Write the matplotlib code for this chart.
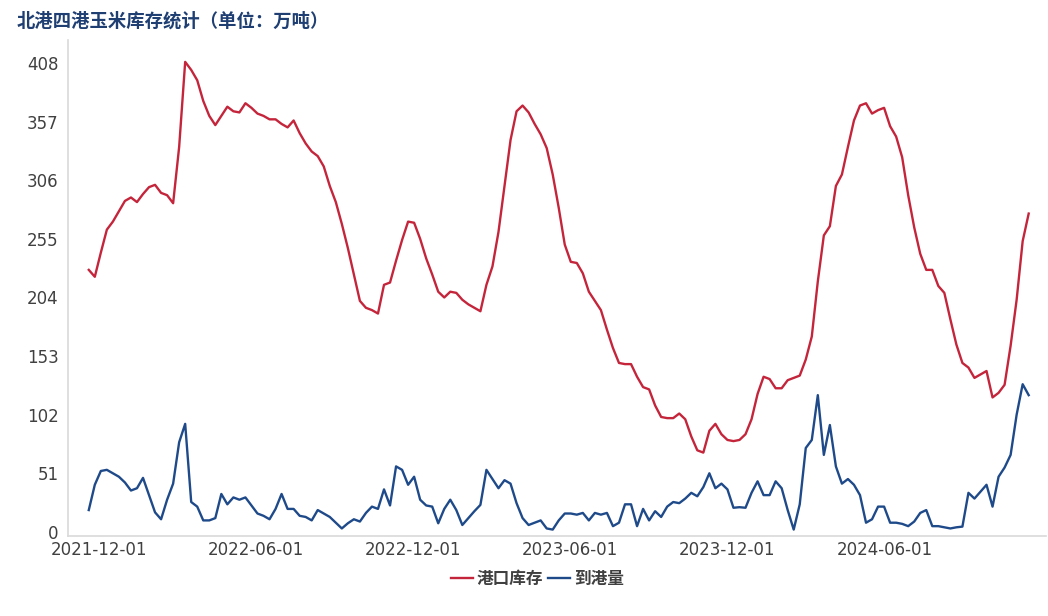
import numpy as np
import pandas as pd
import matplotlib
matplotlib.use('Agg')
import matplotlib.pyplot as plt
import matplotlib.dates as mdates

plt.rcParams['font.family'] = ['Noto Sans CJK SC', 'DejaVu Sans']

# weekly observations
dates = pd.date_range('2021-11-19', periods=157, freq='7D')

stock = [228, 222, 243, 263, 270, 279, 288, 291, 287, 294,
         300, 302, 295, 293, 286, 335, 409, 402, 393, 375,
         362, 354, 362, 370, 366, 365, 373, 369, 364, 362,
         359, 359, 355, 352, 358, 347, 338, 331, 327, 318,
         301, 287, 268, 247, 224, 201, 195, 193, 190, 215,
         217, 236, 254, 270, 269, 255, 238, 224, 209, 204,
         209, 208, 202, 198, 195, 192, 215, 231, 261, 301,
         341, 366, 371, 365, 355, 346, 334, 311, 282, 250,
         235, 234, 225, 209, 201, 193, 176, 160, 147, 146,
         146, 135, 126, 124, 110, 100, 99, 99, 103, 98,
         83, 71, 69, 88, 94, 85, 80, 79, 80, 85,
         98, 120, 135, 133, 125, 125, 132, 134, 136, 150,
         170, 218, 258, 266, 301, 311, 335, 358, 371, 373,
         364, 367, 369, 353, 344, 326, 293, 265, 242, 228,
         228, 214, 208, 185, 163, 147, 143, 134, 137, 140,
         117, 121, 128, 162, 202, 253, 277]

arrivals = [19, 41, 53, 54, 51, 48, 43, 36, 38, 47,
            32, 17, 11, 28, 42, 78, 94, 26, 22, 10,
            10, 12, 33, 24, 30, 28, 30, 23, 16, 14,
            11, 20, 33, 20, 20, 14, 13, 10, 19, 16,
            13, 8, 3, 7.5, 11, 9, 16.5, 22, 20, 37,
            23, 57, 54, 41, 48, 28, 23, 22, 7.5, 20,
            28, 19, 6, 12, 18, 23.5, 54, 46, 38, 45,
            42, 25, 12, 6, 8, 10, 3, 2, 10, 16,
            16, 15, 16.5, 10, 16.5, 15, 16.5, 5, 8, 24,
            24, 5, 20, 10, 18, 13, 22, 26, 25, 29,
            34, 31, 39, 51, 38, 42, 37, 21, 21.5, 21,
            34, 44, 32, 32, 44, 38, 19, 2, 24, 73,
            80, 119, 67, 93, 57, 42, 46, 41, 32, 8,
            11, 22, 22, 8, 8, 7, 5, 9, 16.5, 19,
            5, 5, 4, 3, 4, 4.6, 34, 29, 35, 41,
            22, 48, 56, 67, 102, 128.5, 119]

yticks = [0, 51, 102, 153, 204, 255, 306, 357, 408]
xticks = ['2021-12-01', '2022-06-01', '2022-12-01',
          '2023-06-01', '2023-12-01', '2024-06-01']

fig = plt.figure(figsize=(10.48, 6.16), dpi=100)
ax = fig.add_axes([0.065, 0.130, 0.933, 0.805])

ax.plot(dates, stock, color='#c4253b', lw=1.7, label='港口库存')
ax.plot(dates, arrivals, color='#1f4a8a', lw=1.7, label='到港量')

ax.set_xlim(pd.Timestamp('2021-10-26'), pd.Timestamp('2024-12-05'))
ax.set_ylim(-3.5, 428)
ax.set_yticks(yticks)
ax.set_xticks(pd.to_datetime(xticks))
ax.xaxis.set_major_formatter(mdates.DateFormatter('%Y-%m-%d'))

for lab in ax.get_xticklabels() + ax.get_yticklabels():
    lab.set_family('DejaVu Sans')
    lab.set_fontsize(12)
    lab.set_color('#404040')
ax.tick_params(axis='both', length=0)
ax.tick_params(axis='y', pad=7)
ax.tick_params(axis='x', pad=4)

for s in ['top', 'right']:
    ax.spines[s].set_visible(False)
for s in ['left', 'bottom']:
    ax.spines[s].set_color('#d9d9d9')
    ax.spines[s].set_linewidth(1.2)

fig.text(0.016, 0.966, '北港四港玉米库存统计（单位：万吨）', fontsize=13.2,
         fontweight='bold', color='#1f3f73', va='center', ha='left')

ax.legend(loc='center', bbox_to_anchor=(0.48, -0.086), ncol=2, frameon=False,
          prop={'size': 12, 'weight': 'bold'}, handlelength=1.3,
          handletextpad=0.25, columnspacing=0.3, labelcolor='#404040')

fig.savefig('out.png', dpi=100)
